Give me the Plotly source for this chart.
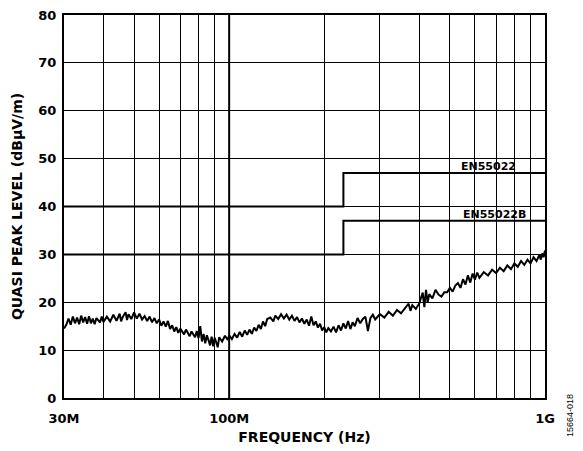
import plotly.graph_objects as go

# Measured emission (frequency in MHz, level in dBuV/m)
freq_mhz = [30, 30.5, 31, 31.5, 32, 32.5, 33, 33.5, 34, 34.5, 35, 35.5, 36, 36.5, 37, 37.5, 38, 39, 39.5, 40,
            41, 42, 43, 44, 45, 45.5, 46, 47, 47.5, 48, 49, 50, 51, 52, 53, 54, 55, 56, 57, 58,
            59, 60, 61, 62, 63, 64, 65, 66, 67, 68, 69, 70, 72, 73, 75, 76, 78, 79, 80, 81,
            82, 83, 84, 85, 86, 87, 88, 89, 90, 92, 93, 95, 97, 99, 100, 102, 104, 106, 108, 110,
            112, 114, 116, 118, 120, 122, 124, 126, 128, 130, 132, 135, 138, 140, 143, 146, 149, 152, 155, 158,
            161, 164, 167, 170, 173, 176, 179, 182, 185, 188, 191, 194, 197, 200, 203, 206, 210, 214, 218, 222,
            226, 230, 234, 238, 242, 246, 250, 255, 260, 265, 270, 275, 280, 285, 290, 300, 310, 320, 330, 340,
            350, 360, 370, 375, 380, 390, 400, 410, 415, 420, 425, 430, 440, 450, 460, 470, 480, 490, 500, 510,
            520, 530, 540, 550, 560, 570, 580, 590, 600, 610, 620, 640, 660, 680, 700, 720, 740, 760, 780, 800,
            820, 840, 860, 880, 900, 920, 940, 960, 970, 980, 990, 1000]
level_db = [14.5, 15.3, 16.6, 15.3, 17.0, 15.6, 16.8, 15.4, 17.2, 15.8, 16.9, 15.5, 17.1, 15.6, 16.6, 15.4, 16.7, 15.8, 17.0, 15.9,
            17.0, 16.0, 17.4, 16.1, 17.6, 16.0, 16.9, 17.9, 16.3, 17.5, 16.5, 17.9, 16.6, 17.6, 16.4, 17.1, 16.1, 17.0, 15.8, 16.7,
            15.6, 16.4, 15.1, 16.0, 14.9, 16.1, 14.4, 15.2, 13.9, 14.8, 13.6, 14.5, 13.3, 14.3, 12.9, 13.9, 12.7, 14.0, 12.5, 15.0,
            11.8, 13.4, 11.4, 13.1, 12.1, 11.0, 12.8, 10.8, 12.6, 10.6, 12.7, 11.8, 13.0, 12.1, 13.1, 12.3, 13.4, 12.6, 13.8, 12.8,
            14.1, 13.2, 14.3, 13.4, 14.7, 14.0, 15.3, 14.4, 16.0, 15.0, 16.5, 16.8, 16.0, 17.2, 16.5, 17.5, 16.6, 17.4, 16.4, 17.2,
            16.1, 16.9, 15.8, 16.6, 15.5, 16.4, 15.1, 17.0, 15.2, 16.0, 14.7, 15.5, 14.1, 14.8, 13.7, 14.6, 13.9, 14.9, 13.7, 15.2,
            14.1, 15.6, 14.5, 16.1, 14.4, 15.8, 15.0, 16.7, 15.6, 16.5, 17.0, 14.0, 16.7, 17.4, 16.4, 17.5, 16.8, 18.0, 17.2, 18.4,
            17.7, 18.8, 19.7, 18.2, 19.4, 18.6, 19.8, 22.0, 19.0, 22.6, 19.9, 21.7, 20.8, 22.6, 21.6, 21.2, 22.1, 22.1, 23.0, 22.2,
            23.5, 24.0, 23.0, 24.8, 23.7, 25.6, 24.1, 26.0, 24.7, 26.2, 25.1, 26.3, 25.6, 26.8, 26.1, 27.2, 26.5, 27.7, 26.9, 28.1,
            27.4, 28.6, 27.8, 28.9, 28.1, 29.4, 28.6, 29.9, 28.9, 30.2, 29.4, 30.8]

# Limit lines
limit_freq_mhz = [30, 230, 230, 1000]
en55022 = [40, 40, 47, 47]
en55022b = [30, 30, 37, 37]

grid_mhz = [30, 40, 50, 60, 70, 80, 90, 100, 200, 300, 400, 500, 600, 700, 800, 900, 1000]
grid_labels = ["30M", "", "", "", "", "", "", "100M", "", "", "", "", "", "", "", "", "1G"]
y_ticks = [0, 10, 20, 30, 40, 50, 60, 70, 80]

hz = lambda v: [f * 1e6 for f in v]
FONT = "DejaVu Sans"

fig = go.Figure()
fig.add_trace(go.Scatter(x=hz(limit_freq_mhz), y=en55022, mode="lines",
                         line=dict(color="black", width=2), hoverinfo="skip"))
fig.add_trace(go.Scatter(x=hz(limit_freq_mhz), y=en55022b, mode="lines",
                         line=dict(color="black", width=2), hoverinfo="skip"))
fig.add_trace(go.Scatter(x=hz(freq_mhz), y=level_db, mode="lines",
                         line=dict(color="black", width=2)))

fig.add_vline(x=100e6, line=dict(color="black", width=2))

fig.add_annotation(x=9.0, xref="x", y=47, yref="y", text="<b>EN55022</b>", showarrow=False,
                   xanchor="right", yanchor="bottom", xshift=-27, yshift=-2,
                   font=dict(family=FONT, size=11, color="black"))
fig.add_annotation(x=9.0, xref="x", y=37, yref="y", text="<b>EN55022B</b>", showarrow=False,
                   xanchor="right", yanchor="bottom", xshift=-17, yshift=-2,
                   font=dict(family=FONT, size=11, color="black"))
fig.add_annotation(x=1.052, xref="paper", y=-0.047, yref="paper", text="15664-018", showarrow=False,
                   textangle=-90, xanchor="center", yanchor="middle",
                   font=dict(family="Liberation Sans", size=9, color="black"))

fig.update_layout(
    width=583, height=451,
    margin=dict(l=64, r=38, t=15, b=53, autoexpand=False),
    paper_bgcolor="white", plot_bgcolor="white",
    showlegend=False,
    font=dict(family=FONT, size=13, color="black"),
)
fig.update_xaxes(type="log", range=[7.4771, 9.0],
                 tickvals=hz(grid_mhz), ticktext=[f"<b>{t}</b>" for t in grid_labels],
                 tickangle=0, automargin=False, ticklabelstandoff=7,
                 showgrid=True, gridcolor="black", gridwidth=1,
                 showline=True, linecolor="black", linewidth=2, mirror=True,
                 ticks="", zeroline=False,
                 title=dict(text="<b>FREQUENCY (Hz)</b>", font=dict(size=14), standoff=8),
                 tickfont=dict(size=13))
fig.update_yaxes(range=[0, 80], tickvals=y_ticks, ticktext=[f"<b>{v}</b>" for v in y_ticks],
                 automargin=False, ticklabelstandoff=3,
                 showgrid=True, gridcolor="black", gridwidth=1,
                 showline=True, linecolor="black", linewidth=2, mirror=True,
                 ticks="", zeroline=False,
                 title=dict(text="<b>QUASI PEAK LEVEL (dBµV/m)</b>", font=dict(size=14), standoff=12),
                 tickfont=dict(size=13))

fig.write_html("out.html", config={"displayModeBar": False},
               post_script="document.body.style.margin='0';document.body.style.overflow='hidden';")
